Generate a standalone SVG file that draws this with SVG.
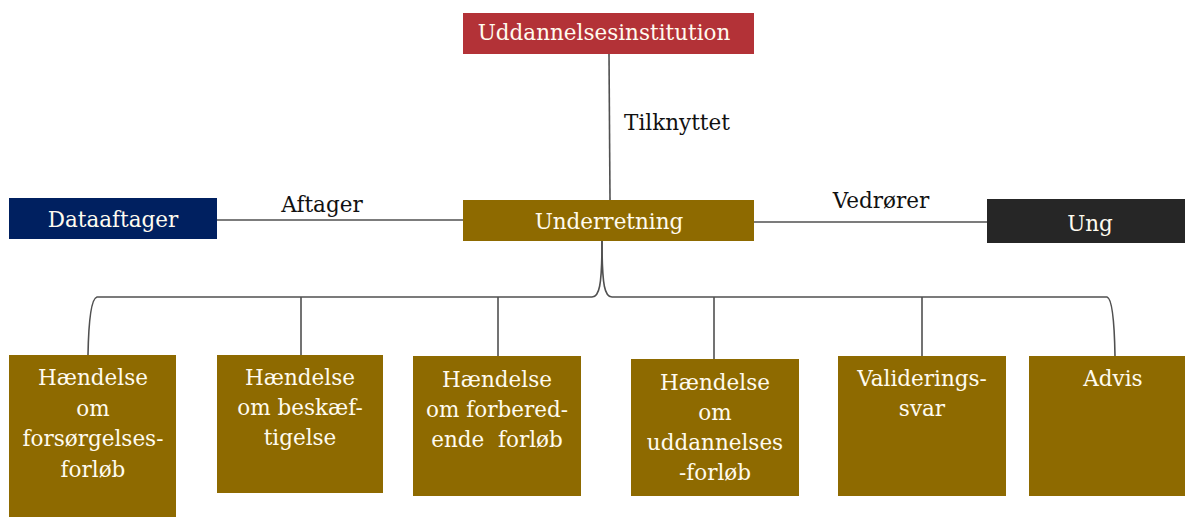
<svg xmlns="http://www.w3.org/2000/svg" width="1185" height="517" viewBox="0 0 1185 517">
<style>
.box{fill:#8E6A00}
.t{font-family:"DejaVu Serif","Liberation Serif",serif;font-size:21.5px;fill:#FFFBEF;text-anchor:middle}
.l{font-family:"DejaVu Serif","Liberation Serif",serif;font-size:21.5px;fill:#111;text-anchor:middle}
.c{fill:none;stroke:#505050;stroke-width:1.6}
</style>
<rect width="1185" height="517" fill="#fff"/>
<g id="connectors">
<line class="c" x1="609" y1="54" x2="610" y2="200"/>
<line class="c" x1="217" y1="220" x2="463" y2="220"/>
<line class="c" x1="754" y1="222" x2="987" y2="222"/>
<path class="c" d="M602,241 C602,287 599,297 592,297 L97,297 Q89,299 88,355"/>
<path class="c" d="M602,241 C602,287 605,297 612,297 L1107,297 Q1114,299 1115,356"/>
<line class="c" x1="301" y1="297" x2="301" y2="355"/>
<line class="c" x1="498" y1="297" x2="498" y2="356"/>
<line class="c" x1="714" y1="297" x2="714" y2="359"/>
<line class="c" x1="922" y1="297" x2="922" y2="356"/>
<text class="l" x="677" y="130">Tilknyttet</text>
<text class="l" x="322" y="212">Aftager</text>
<text class="l" x="881" y="208">Vedrører</text>
</g>
<g id="uddannelsesinstitution">
<rect x="463" y="13" width="291" height="41" fill="#B33237"/>
<text class="t" x="604" y="40">Uddannelsesinstitution</text>
</g>
<g id="underretning">
<rect class="box" x="463" y="200" width="291" height="41"/>
<text class="t" x="609" y="229">Underretning</text>
</g>
<g id="dataaftager">
<rect x="9" y="198" width="208" height="41" fill="#002060"/>
<text class="t" x="113" y="227">Dataaftager</text>
</g>
<g id="ung">
<rect x="987" y="199" width="198" height="44" fill="#262626"/>
<text class="t" x="1090" y="231">Ung</text>
</g>
<g id="forsorgelse">
<rect class="box" x="9" y="355" width="167" height="162"/>
<text class="t" x="93" y="385">Hændelse</text>
<text class="t" x="93" y="416">om</text>
<text class="t" x="93" y="446">forsørgelses-</text>
<text class="t" x="93" y="477">forløb</text>
</g>
<g id="beskaeftigelse">
<rect class="box" x="217" y="355" width="166" height="138"/>
<text class="t" x="300" y="385">Hændelse</text>
<text class="t" x="300" y="415">om beskæf-</text>
<text class="t" x="300" y="445">tigelse</text>
</g>
<g id="forberedende">
<rect class="box" x="413" y="356" width="168" height="140"/>
<text class="t" x="497" y="387">Hændelse</text>
<text class="t" x="497" y="417">om forbered-</text>
<text class="t" x="497" y="447" xml:space="preserve">ende  forløb</text>
</g>
<g id="uddannelsesforloeb">
<rect class="box" x="631" y="359" width="168" height="137"/>
<text class="t" x="715" y="390">Hændelse</text>
<text class="t" x="715" y="420">om</text>
<text class="t" x="715" y="450">uddannelses</text>
<text class="t" x="715" y="480">-forløb</text>
</g>
<g id="valideringssvar">
<rect class="box" x="838" y="356" width="168" height="140"/>
<text class="t" x="922" y="386">Validerings-</text>
<text class="t" x="922" y="416">svar</text>
</g>
<g id="advis">
<rect class="box" x="1029" y="356" width="156" height="140"/>
<text class="t" x="1113" y="386">Advis</text>
</g>
</svg>
